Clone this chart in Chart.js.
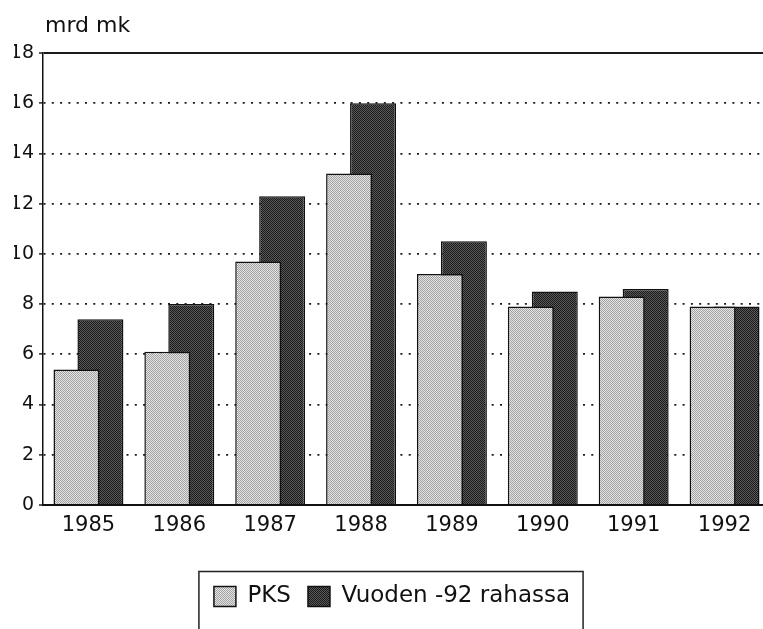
<!DOCTYPE html>
<html>
<head>
<meta charset="utf-8">
<script src="https://cdn.jsdelivr.net/npm/chart.js@4"></script>
<style>
  html, body { margin: 0; padding: 0; background: #ffffff; overflow: hidden; width: 763px; height: 629px; }
  canvas { display: block; }
</style>
</head>
<body>
<canvas id="c" width="770" height="629"></canvas>
<script>
// ---- data ----
const years = ['1985', '1986', '1987', '1988', '1989', '1990', '1991', '1992'];
const pks = [5.4, 6.1, 9.7, 13.2, 9.2, 7.9, 8.3, 7.9];
const realValue = [7.4, 8.0, 12.3, 16.0, 10.5, 8.5, 8.6, 7.9];
const seriesNames = ['PKS', 'Vuoden -92 rahassa'];
const unitLabel = 'mrd mk';
const yMin = 0, yMax = 18, yStep = 2;

// ---- stipple patterns ----
function makePattern(base, dot) {
  const t = document.createElement('canvas');
  t.width = 2; t.height = 2;
  const g = t.getContext('2d');
  g.fillStyle = base; g.fillRect(0, 0, 2, 2);
  g.fillStyle = dot; g.fillRect(0, 0, 1, 1); g.fillRect(1, 1, 1, 1);
  return document.getElementById('c').getContext('2d').createPattern(t, 'repeat');
}
const lightPat = makePattern('#e4e4e4', '#a2a2a2');
const darkPat = makePattern('#5a5a5a', '#1a1a1a');

const FONT = "'DejaVu Sans', sans-serif";

const extras = {
  id: 'extras',
  afterDraw(chart) {
    const ctx = chart.ctx;
    const a = chart.chartArea;
    ctx.save();
    ctx.fillStyle = '#111';
    ctx.font = "22px " + FONT;
    ctx.textBaseline = 'alphabetic';
    ctx.textAlign = 'left';
    ctx.fillText(unitLabel, a.left + 2, 32);
    // legend frame
    const lg = chart.legend;
    if (lg && lg.legendHitBoxes && lg.legendHitBoxes.length) {
      const hb = lg.legendHitBoxes;
      const first = hb[0], last = hb[hb.length - 1];
      const x0 = first.left - 15;
      const x1 = last.left + last.width + 13;
      const y0 = lg.top + 3.5;
      ctx.strokeStyle = '#222';
      ctx.lineWidth = 1.5;
      ctx.beginPath();
      ctx.moveTo(x0, chart.height + 5);
      ctx.lineTo(x0, y0);
      ctx.lineTo(x1, y0);
      ctx.lineTo(x1, chart.height + 5);
      ctx.stroke();
    }
    ctx.restore();
  }
};

new Chart(document.getElementById('c'), {
  type: 'bar',
  data: {
    labels: years,
    datasets: [
      { label: seriesNames[0], data: pks, backgroundColor: lightPat, borderColor: '#111', borderWidth: 1.5 },
      { label: seriesNames[1], data: realValue, backgroundColor: darkPat, borderColor: '#111', borderWidth: 1.5 }
    ]
  },
  options: {
    responsive: false,
    devicePixelRatio: 1,
    animation: false,
    events: [],
    categoryPercentage: 0.527,
    barPercentage: 1.92,
    layout: { padding: { top: 53, left: 14, right: 0, bottom: 11 } },
    scales: {
      x: {
        grid: { display: false, drawTicks: false },
        border: { display: true, color: '#111', width: 2 },
        ticks: { color: '#111', font: { family: FONT, size: 21 }, padding: 8, maxRotation: 0 },
        afterFit(s) { s.height = 63; }
      },
      y: {
        min: yMin, max: yMax,
        ticks: { stepSize: yStep, color: '#111', font: { family: FONT, size: 19, lineHeight: 1.0 }, padding: 5 },
        grid: {
          color: '#1a1a1a',
          lineWidth: (c) => (c.tick && (c.tick.value === yMax || c.tick.value === yMin)) ? 2 : 1.8,
          tickLength: 4,
          tickColor: '#222',
          tickWidth: 1.5
        },
        border: {
          display: true, color: '#111', width: 1.5,
          dash: (c) => (c.tick && (c.tick.value === yMax || c.tick.value === yMin)) ? [] : [2, 6.3]
        },
        afterFit(s) { s.width = 29; }
      }
    },
    plugins: {
      legend: {
        position: 'bottom',
        labels: {
          color: '#111',
          font: { family: FONT, size: 23 },
          boxWidth: 22,
          boxHeight: 20,
          padding: 17
        }
      },
      title: { display: false },
      tooltip: { enabled: false }
    }
  },
  plugins: [extras]
});
</script>
</body>
</html>
